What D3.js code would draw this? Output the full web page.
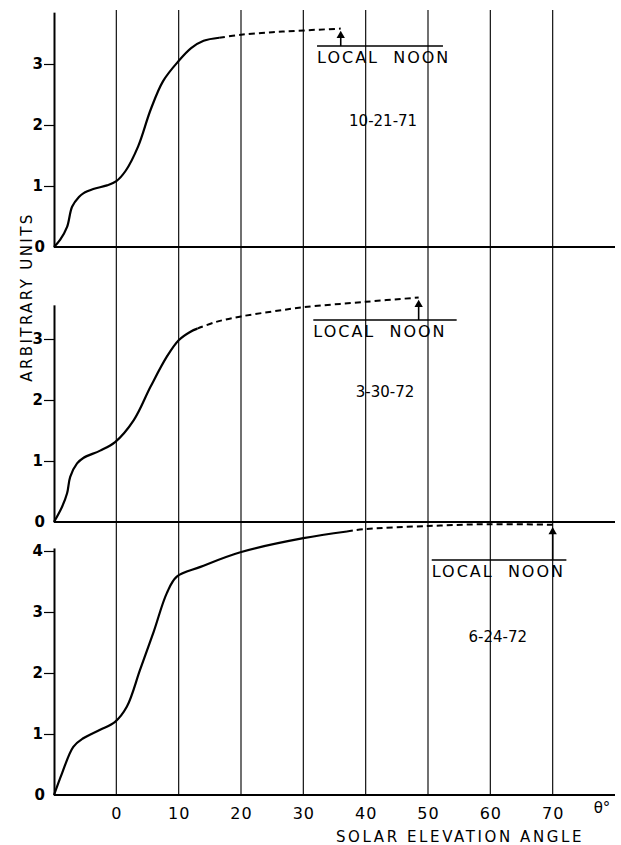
<!DOCTYPE html>
<html>
<head>
<meta charset="utf-8">
<script src="https://cdn.jsdelivr.net/npm/d3@7"></script>
<style>
  body { margin: 0; background: #fff; }
  text { font-family: "DejaVu Sans", sans-serif; fill: #000; }
</style>
</head>
<body>
<div id="chart"></div>
<script>
// data: solar elevation angle (deg) vs arbitrary units
const dates = ["10-21-71", "3-30-72", "6-24-72"];
const noonAngle = [36, 48.5, 70];
const yTop = [3.85, 3.56, 4.05];
const yTicks = [[0, 1, 2, 3], [0, 1, 2, 3], [0, 1, 2, 3, 4]];
const xTicks = [0, 10, 20, 30, 40, 50, 60, 70];

const solid1 = [[-10, 0], [-9, 0.12], [-7.9, 0.33], [-7.1, 0.66], [-6, 0.82], [-5.3, 0.88], [-3.7, 0.95],
  [-1.5, 1.01], [0, 1.08], [1.5, 1.25], [3.5, 1.65], [5.5, 2.25], [7.5, 2.72], [10, 3.05], [12, 3.26], [14, 3.38], [16.5, 3.43]];
const dash1 = [[16.5, 3.43], [20, 3.48], [25, 3.52], [30, 3.55], [36, 3.58]];

const solid2 = [[-10, 0], [-8.7, 0.25], [-7.9, 0.47], [-7.4, 0.74], [-6.3, 0.96], [-5.3, 1.05], [-2.6, 1.17],
  [-0.2, 1.31], [2.8, 1.67], [5.5, 2.22], [8.1, 2.71], [10, 2.98], [11.9, 3.12], [13, 3.17]];
const dash2 = [[13, 3.17], [16, 3.28], [20, 3.37], [25, 3.45], [30, 3.52], [40, 3.61], [48.5, 3.68]];

const solid3 = [[-10, 0], [-8.7, 0.36], [-6.9, 0.79], [-5.3, 0.93], [-2.6, 1.07], [-0.2, 1.2], [1.7, 1.45],
  [3.8, 2.05], [6, 2.68], [8.1, 3.31], [9.7, 3.58], [13.5, 3.74], [19.9, 3.98], [30, 4.21], [37, 4.32]];
const dash3 = [[37, 4.32], [40, 4.36], [50, 4.41], [60, 4.44], [70, 4.43]];

const solids = [solid1, solid2, solid3];
const dashes = [dash1, dash2, dash3];

// layout
const W = 621, H = 845;
const baseY = [247, 522, 795];
const unit = 61;
const dateAt = [[42.8, 126], [43.1, 397], [61.2, 642]];     // [angle, pixel y]
const noonBar = [[32.2, 52.4, 46], [31.6, 54.6, 320], [50.6, 72.2, 560]];

const svg = d3.select("#chart").append("svg")
  .attr("width", W)
  .attr("height", H);

const x = d3.scaleLinear().domain([-10, 80]).range([54, 615]);

// vertical grid through all panels
svg.append("g")
  .selectAll("line")
  .data(xTicks)
  .enter().append("line")
  .attr("x1", d => x(d)).attr("x2", d => x(d))
  .attr("y1", 10).attr("y2", baseY[2])
  .attr("stroke", "#111")
  .attr("stroke-width", 1.2);

const line = d3.line().curve(d3.curveCatmullRom.alpha(0.5));

for (let i = 0; i < 3; i++) {
  const y = d3.scaleLinear().domain([0, 1]).range([baseY[i], baseY[i] - unit]);
  line.x(d => x(d[0])).y(d => y(d[1]));

  // baseline
  svg.append("line")
    .attr("x1", x(-10)).attr("x2", x(80))
    .attr("y1", y(0)).attr("y2", y(0))
    .attr("stroke", "#000")
    .attr("stroke-width", 2);

  // y axis
  const ya = d3.scaleLinear().domain([0, yTop[i]]).range([y(0), y(yTop[i])]);
  const ax = svg.append("g")
    .attr("transform", "translate(" + x(-10) + ",0)")
    .call(d3.axisLeft(ya).tickValues(yTicks[i]).tickSize(10).tickSizeOuter(0).tickPadding(3).tickFormat(d3.format("d")));
  ax.select(".domain").attr("stroke-width", 2);
  ax.selectAll(".tick line").attr("stroke-width", 1.2)
    .style("display", d => d == 0 ? "none" : null);
  ax.selectAll(".tick text")
    .style("font-size", "15px")
    .style("font-weight", "bold")
    .attr("x", d => d == 0 ? -9 : -11);

  // curves
  svg.append("path")
    .attr("d", line(solids[i]))
    .attr("fill", "none")
    .attr("stroke", "#000")
    .attr("stroke-width", 2.2);
  svg.append("path")
    .attr("d", line(dashes[i]))
    .attr("fill", "none")
    .attr("stroke", "#000")
    .attr("stroke-width", 2)
    .attr("stroke-dasharray", "6,4");

  // local noon marker
  const nb = noonBar[i];
  const tipY = y(dashes[i][dashes[i].length - 1][1]) + 2;
  svg.append("line")
    .attr("x1", x(nb[0])).attr("x2", x(nb[1]))
    .attr("y1", nb[2]).attr("y2", nb[2])
    .attr("stroke", "#000").attr("stroke-width", 1.4);
  svg.append("line")
    .attr("x1", x(noonAngle[i])).attr("x2", x(noonAngle[i]))
    .attr("y1", nb[2]).attr("y2", tipY + 6)
    .attr("stroke", "#000").attr("stroke-width", 1.6);
  svg.append("path")
    .attr("d", d3.symbol().type(d3.symbolTriangle).size(30)())
    .attr("transform", "translate(" + x(noonAngle[i]) + "," + (tipY + 5) + ")")
    .attr("fill", "#000");
  svg.append("text")
    .attr("x", x(nb[0]))
    .attr("y", nb[2] + 17)
    .style("font-size", "16px")
    .style("letter-spacing", "2px")
    .style("white-space", "pre")
    .text("LOCAL  NOON");

  // date label
  svg.append("text")
    .attr("x", x(dateAt[i][0]))
    .attr("y", dateAt[i][1])
    .attr("text-anchor", "middle")
    .style("font-size", "15px")
    .text(dates[i]);
}

// x axis labels under the bottom panel
const xa = svg.append("g")
  .attr("transform", "translate(0," + baseY[2] + ")")
  .call(d3.axisBottom(x).tickValues(xTicks).tickSize(0).tickPadding(13));
xa.select(".domain").remove();
xa.selectAll(".tick text").style("font-size", "16px").style("letter-spacing", "1px");

svg.append("text")
  .attr("x", 602).attr("y", 813)
  .attr("text-anchor", "middle")
  .style("font-size", "15px")
  .text("θ°");

svg.append("text")
  .attr("x", 460).attr("y", 842)
  .attr("text-anchor", "middle")
  .style("font-size", "15px")
  .style("letter-spacing", "2.6px")
  .text("SOLAR ELEVATION ANGLE");

svg.append("text")
  .attr("transform", "translate(32,297) rotate(-90)")
  .attr("text-anchor", "middle")
  .style("font-size", "15px")
  .style("letter-spacing", "2.4px")
  .text("ARBITRARY UNITS");
</script>
</body>
</html>
